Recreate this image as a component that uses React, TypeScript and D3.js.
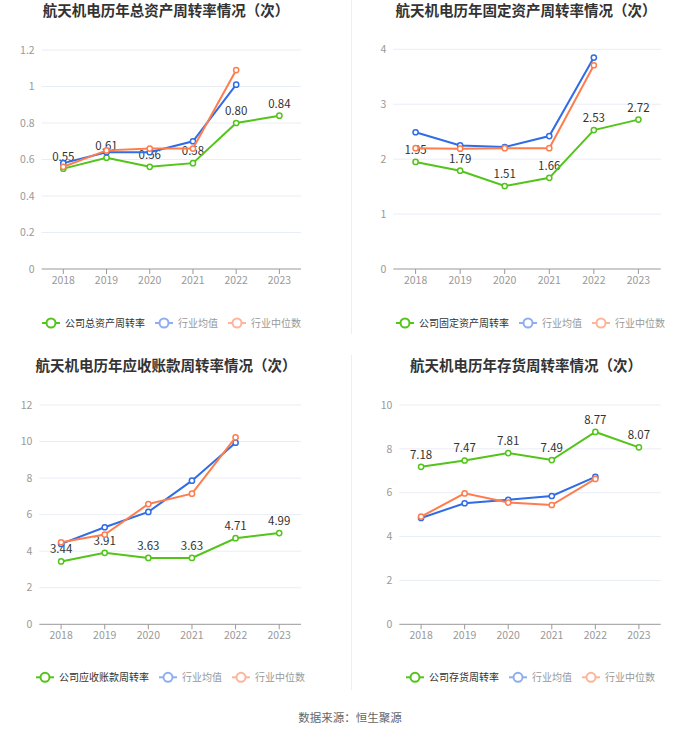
import React from "react";
import * as d3 from "d3";

const years = ["2018", "2019", "2020", "2021", "2022", "2023"];
const industryYears = ["2018", "2019", "2020", "2021", "2022"];

const titles = [
  "航天机电历年总资产周转率情况（次）",
  "航天机电历年固定资产周转率情况（次）",
  "航天机电历年应收账款周转率情况（次）",
  "航天机电历年存货周转率情况（次）",
];
const companyNames = ["公司总资产周转率", "公司固定资产周转率", "公司应收账款周转率", "公司存货周转率"];
const meanName = "行业均值";
const medianName = "行业中位数";

const totalAssetCompany = [0.55, 0.61, 0.56, 0.58, 0.8, 0.84];
const totalAssetMean = [0.58, 0.64, 0.64, 0.7, 1.01];
const totalAssetMedian = [0.56, 0.65, 0.66, 0.66, 1.09];
const totalAssetTicks = [0, 0.2, 0.4, 0.6, 0.8, 1, 1.2];

const fixedAssetCompany = [1.95, 1.79, 1.51, 1.66, 2.53, 2.72];
const fixedAssetMean = [2.49, 2.25, 2.22, 2.42, 3.85];
const fixedAssetMedian = [2.2, 2.19, 2.2, 2.2, 3.71];
const fixedAssetTicks = [0, 1, 2, 3, 4];

const receivableCompany = [3.44, 3.91, 3.63, 3.63, 4.71, 4.99];
const receivableMean = [4.4, 5.31, 6.15, 7.86, 9.94];
const receivableMedian = [4.49, 4.91, 6.58, 7.15, 10.23];
const receivableTicks = [0, 2, 4, 6, 8, 10, 12];

const inventoryCompany = [7.18, 7.47, 7.81, 7.49, 8.77, 8.07];
const inventoryMean = [4.85, 5.52, 5.68, 5.85, 6.72];
const inventoryMedian = [4.91, 5.97, 5.55, 5.44, 6.63];
const inventoryTicks = [0, 2, 4, 6, 8, 10];

const source = "数据来源：恒生聚源";

const GREEN = "#52c41a";
const BLUE = "#2f6ce5";
const ORANGE = "#ff7d4d";
const BLUE_L = "#8eaef0";
const ORANGE_L = "#ffb49a";
const FONT = "'Noto Sans CJK SC', 'Noto Sans', sans-serif";

type PanelProps = {
  title: string;
  titleX: number;
  titleY: number;
  x0: number;
  x1: number;
  yTop: number;
  yBottom: number;
  legendX: number;
  legendY: number;
  ticks: number[];
  company: number[];
  mean: number[];
  median: number[];
  companyName: string;
};

function Panel(p: PanelProps) {
  const x = d3.scaleBand<string>().domain(years).range([p.x0, p.x1]);
  const cx = (yr: string) => (x(yr) as number) + x.bandwidth() / 2;
  const maxT = p.ticks[p.ticks.length - 1];
  const y = d3.scaleLinear().domain([0, maxT]).range([p.yBottom, p.yTop]);
  const line = d3
    .line<[string, number]>()
    .x((d) => cx(d[0]))
    .y((d) => y(d[1]));
  const comp: [string, number][] = years.map((yr, i) => [yr, p.company[i]]);
  const mean: [string, number][] = industryYears.map((yr, i) => [yr, p.mean[i]]);
  const med: [string, number][] = industryYears.map((yr, i) => [yr, p.median[i]]);

  const legendItems = [
    { name: p.companyName, color: GREEN, text: "#333" },
    { name: meanName, color: BLUE_L, text: "#999" },
    { name: medianName, color: ORANGE_L, text: "#999" },
  ];
  const fs = 10;
  let lx = p.legendX;
  const legendEls = legendItems.map((it, i) => {
    const gx = lx;
    const w = it.name.length * fs;
    lx += 18 + 5 + w + 10;
    return (
      <g key={i}>
        <line x1={gx} x2={gx + 18} y1={p.legendY} y2={p.legendY} stroke={it.color} strokeWidth={2} />
        <circle cx={gx + 9} cy={p.legendY} r={4.5} fill="#fff" stroke={it.color} strokeWidth={2} />
        <text x={gx + 23} y={p.legendY} dy="0.35em" fontSize={fs} fill={it.text} fontFamily={FONT}>
          {it.name}
        </text>
      </g>
    );
  });

  const series = [
    { data: comp, color: GREEN },
    { data: mean, color: BLUE },
    { data: med, color: ORANGE },
  ];

  return (
    <g>
      <text x={p.titleX} y={p.titleY} dy="0.35em" textAnchor="middle" fontSize={14.5} fontWeight="bold" fill="#333" fontFamily={FONT}>
        {p.title}
      </text>
      {p.ticks.map((t) => (
        <g key={t}>
          {t !== 0 && <line x1={p.x0} x2={p.x1} y1={y(t)} y2={y(t)} stroke="#e9edf5" strokeWidth={1} />}
          <text x={p.x0 - 7} y={y(t)} dy="0.35em" textAnchor="end" fontSize={10.5} fill="#999" fontFamily={FONT}>
            {d3.format("~g")(t)}
          </text>
        </g>
      ))}
      <line x1={p.x0} x2={p.x1} y1={p.yBottom} y2={p.yBottom} stroke="#999" strokeWidth={1} />
      {years.map((yr) => (
        <g key={yr}>
          <line x1={cx(yr)} x2={cx(yr)} y1={p.yBottom} y2={p.yBottom + 5} stroke="#999" strokeWidth={1} />
          <text x={cx(yr)} y={p.yBottom + 11} dy="0.35em" textAnchor="middle" fontSize={10.5} fill="#999" fontFamily={FONT}>
            {yr}
          </text>
        </g>
      ))}
      {comp.map(([yr, v]) => (
        <text key={yr} x={cx(yr)} y={y(v) - 8} textAnchor="middle" fontSize={11.5} fill="#333" fontFamily={FONT}>
          {v.toFixed(2)}
        </text>
      ))}
      {series.map((s, i) => (
        <g key={i}>
          <path d={line(s.data) || ""} fill="none" stroke={s.color} strokeWidth={2} />
          {s.data.map(([yr, v]) => (
            <circle key={yr} cx={cx(yr)} cy={y(v)} r={2.6} fill="#fff" stroke={s.color} strokeWidth={1.5} />
          ))}
        </g>
      ))}
      {legendEls}
    </g>
  );
}

export default function App() {
  return (
    <div style={{ position: "absolute", left: 0, top: 0 }}>
      <svg width={700} height={734} style={{ display: "block", background: "#fff" }}>
        <line x1={351.5} x2={351.5} y1={0} y2={334} stroke="#eeeeee" strokeWidth={1} />
        <line x1={351.5} x2={351.5} y1={355} y2={690} stroke="#eeeeee" strokeWidth={1} />
        <Panel
          title={titles[0]}
          titleX={166}
          titleY={11}
          x0={41.7}
          x1={301}
          yTop={50}
          yBottom={269}
          legendX={42}
          legendY={323}
          ticks={totalAssetTicks}
          company={totalAssetCompany}
          mean={totalAssetMean}
          median={totalAssetMedian}
          companyName={companyNames[0]}
        />
        <Panel
          title={titles[1]}
          titleX={526}
          titleY={11}
          x0={393.3}
          x1={660.7}
          yTop={49.3}
          yBottom={269}
          legendX={396}
          legendY={323}
          ticks={fixedAssetTicks}
          company={fixedAssetCompany}
          mean={fixedAssetMean}
          median={fixedAssetMedian}
          companyName={companyNames[1]}
        />
        <Panel
          title={titles[2]}
          titleX={166}
          titleY={366}
          x0={39.3}
          x1={301}
          yTop={405}
          yBottom={624.3}
          legendX={36}
          legendY={677.3}
          ticks={receivableTicks}
          company={receivableCompany}
          mean={receivableMean}
          median={receivableMedian}
          companyName={companyNames[2]}
        />
        <Panel
          title={titles[3]}
          titleX={526}
          titleY={366}
          x0={399.3}
          x1={660.7}
          yTop={405}
          yBottom={624.3}
          legendX={406}
          legendY={677.3}
          ticks={inventoryTicks}
          company={inventoryCompany}
          mean={inventoryMean}
          median={inventoryMedian}
          companyName={companyNames[3]}
        />
        <text x={350} y={718} dy="0.35em" textAnchor="middle" fontSize={11.5} fill="#666" fontFamily={FONT}>
          {source}
        </text>
      </svg>
    </div>
  );
}
